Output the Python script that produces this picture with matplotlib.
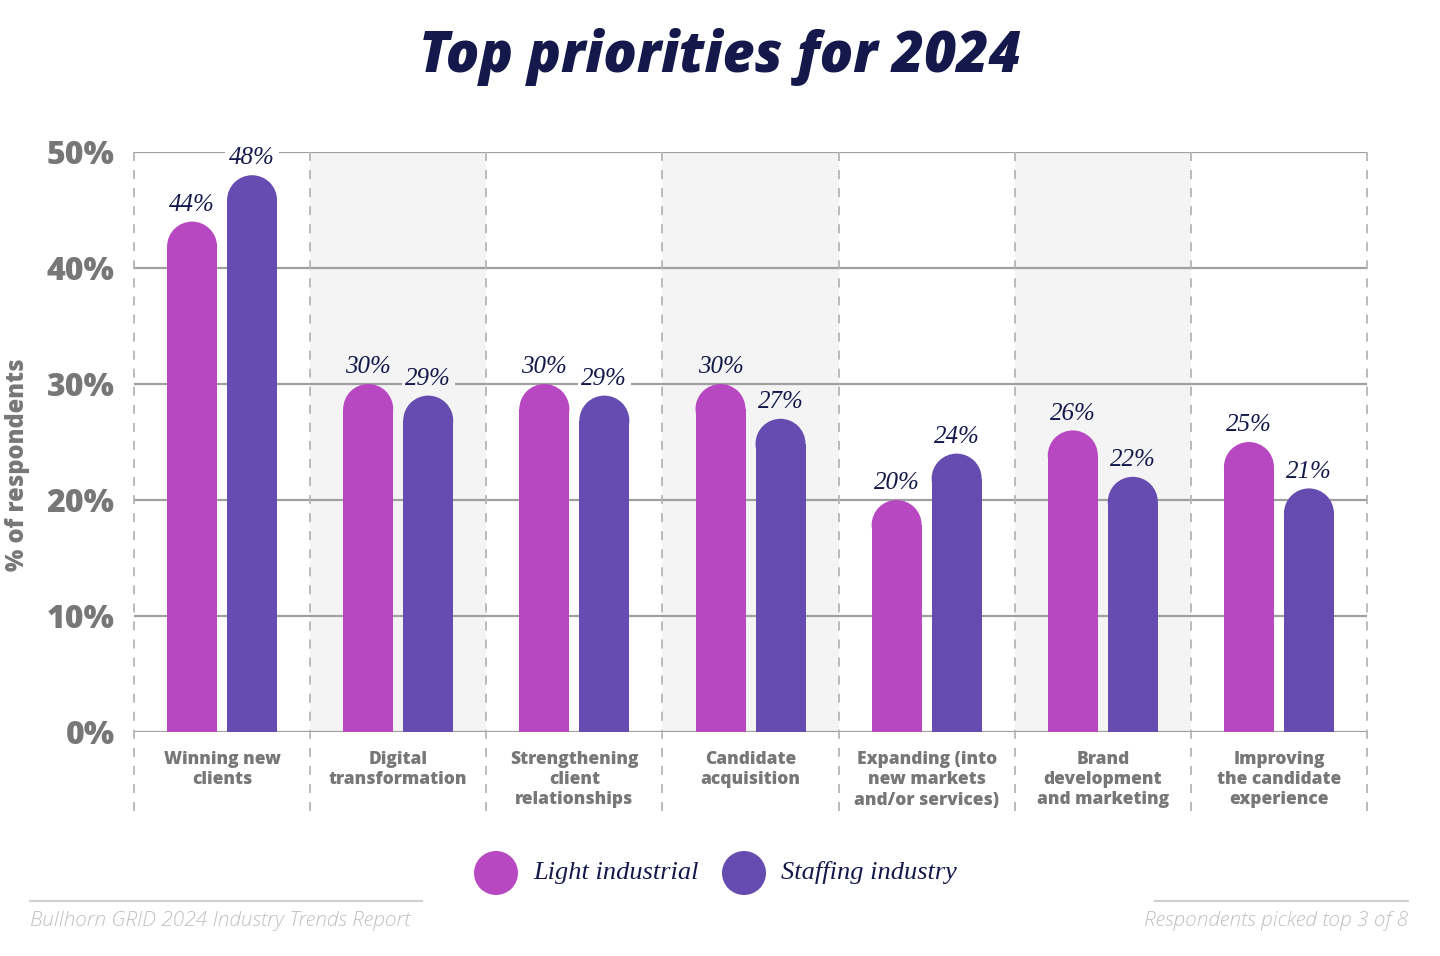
import matplotlib.pyplot as plt
from matplotlib.patches import Rectangle, Ellipse
from matplotlib.lines import Line2D

categories = ["Winning new\nclients", "Digital\ntransformation", "Strengthening\nclient\nrelationships",
              "Candidate\nacquisition", "Expanding (into\nnew markets\nand/or services)",
              "Brand\ndevelopment\nand marketing", "Improving\nthe candidate\nexperience"]
light_industrial = [44, 30, 30, 30, 20, 26, 25]
staffing_industry = [48, 29, 29, 27, 24, 22, 21]
series_names = ["Light industrial", "Staffing industry"]
yticks = [0, 10, 20, 30, 40, 50]

c_light = '#b847c2'
c_staff = '#664bb0'
navy = '#14184a'
gray_txt = '#777777'
band = '#f4f4f4'
sans = ['Open Sans', 'DejaVu Sans']
serif = ['Liberation Serif', 'DejaVu Serif']

fig = plt.figure(figsize=(14.4, 9.56), dpi=100)
ax = fig.add_axes([134/1440, 1-732/956, (1367-134)/1440, (732-152)/956])
ax.set_xlim(0, 7)
ax.set_ylim(0, 50)
for s in ax.spines.values():
    s.set_visible(False)
ax.set_xticks([])
ax.set_yticks(yticks)
ax.set_yticklabels([f"{t}%" for t in yticks], fontsize=23, fontweight=800,
                   color=gray_txt, family=sans)
ax.tick_params(axis='y', length=0, pad=14)

# pixel -> data scales
px_x = 7 / (1367 - 134)
px_y = 50 / (732 - 152)

# alternating bands
for i in range(len(categories)):
    if i % 2 == 1:
        ax.add_patch(Rectangle((i, 0), 1, 50, facecolor=band, edgecolor='none', zorder=0))

for t in yticks:
    ax.axhline(t, color='#a0a0a0', lw=1.6, zorder=1)

for i in range(len(categories) + 1):
    ax.add_line(Line2D([i, i], [50, -80 * px_y], color='#b5b5b5', lw=1.3,
                       ls=(0, (5, 5)), clip_on=False, zorder=1))

bw = 50 * px_x
off = 30 * px_x
r = 25 * px_y


def rbar(x, v, color):
    ax.add_patch(Rectangle((x - bw/2, 0), bw, v - r, facecolor=color, edgecolor='none', zorder=3))
    ax.add_patch(Ellipse((x, v - r), bw, 2*r, facecolor=color, edgecolor='none', zorder=3))


for i, (a, b) in enumerate(zip(light_industrial, staffing_industry)):
    bg = band if i % 2 == 1 else 'white'
    for x, v, c in [(i + 0.5 - off, a, c_light), (i + 0.5 + off, b, c_staff)]:
        rbar(x, v, c)
        ax.text(x, v + 0.5, f"{v}%", ha='center', va='bottom', fontsize=18, style='italic',
                color=navy, family=serif, zorder=4,
                bbox=dict(boxstyle='square,pad=0.15', facecolor=bg, edgecolor='none'))
    ax.text(i + 0.5, -19 * px_y, categories[i], ha='center', va='top', fontsize=12.5,
            fontweight=800, color=gray_txt, family=sans, linespacing=1.25)

fig.text(18/1440, 1-465/956, "% of respondents", rotation=90, ha='center', va='center',
         fontsize=17, fontweight=800, color=gray_txt, family=sans)

fig.text(0.5, 1-57/956, "Top priorities for 2024", ha='center', va='center', fontsize=40,
         fontweight=800, style='italic', color=navy, family=sans)

# legend
for cx, lbl, c in [(496, series_names[0], c_light), (744, series_names[1], c_staff)]:
    fig.patches.append(Ellipse((cx/1440, 1-873/956), 44/1440, 44/956, facecolor=c,
                               edgecolor='none', transform=fig.transFigure))
    fig.text((cx + 37)/1440, 1-873/956, lbl, ha='left', va='center', fontsize=19,
             style='italic', color=navy, family=serif)

# footer
fig.add_artist(Line2D([30/1440, 422/1440], [1-901/956]*2, color='#d0d0d0', lw=1.5))
fig.add_artist(Line2D([1155/1440, 1408/1440], [1-901/956]*2, color='#d0d0d0', lw=1.5))
fig.text(30/1440, 1-921/956, "Bullhorn GRID 2024 Industry Trends Report", ha='left', va='center',
         fontsize=15, fontweight=300, style='italic', color='#c0c0c0', family=sans)
fig.text(1408/1440, 1-921/956, "Respondents picked top 3 of 8", ha='right', va='center',
         fontsize=15, fontweight=300, style='italic', color='#c0c0c0', family=sans)

fig.savefig('out.png', dpi=100, facecolor='white')
